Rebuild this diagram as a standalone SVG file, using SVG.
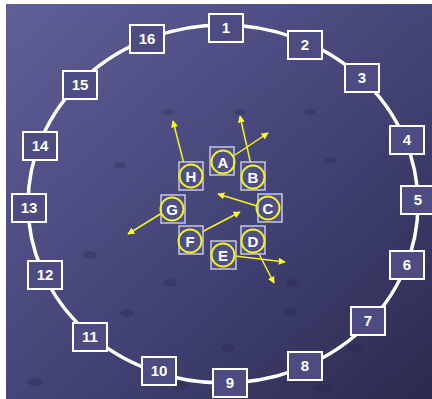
<svg xmlns="http://www.w3.org/2000/svg" width="432" height="399" viewBox="0 0 432 399">
  <defs>
    <linearGradient id="bg" x1="0" y1="0" x2="1" y2="1">
      <stop offset="0" stop-color="#606096"/>
      <stop offset="0.5" stop-color="#45457a"/>
      <stop offset="1" stop-color="#2b2b4e"/>
    </linearGradient>
    <marker id="ah" viewBox="0 0 10 10" refX="9" refY="5" markerWidth="7" markerHeight="7" markerUnits="userSpaceOnUse" orient="auto">
      <path d="M0,0 L10,5 L0,10 z" fill="#ffff22"/>
    </marker>
    <style>
      .ob { fill: #4c4c82; stroke: #ffffff; stroke-width: 2; }
      .ot { fill: #ffffff; font-family: "Liberation Sans", Arial, sans-serif; font-weight: bold; font-size: 15px; text-anchor: middle; }
      .ib { fill: #4f4f88; stroke: #c8c8dc; stroke-width: 1.5; }
      .ic { fill: none; stroke: #f2f21e; stroke-width: 2; }
      .it { fill: #ffffff; font-family: "Liberation Sans", Arial, sans-serif; font-weight: bold; font-size: 15px; text-anchor: middle; }
      .ar { stroke: #f5f51e; stroke-width: 1.5; fill: none; marker-end: url(#ah); }
      .dot { fill: #262645; opacity: 0.3; }
    </style>
  </defs>
  <rect x="0" y="0" width="432" height="399" fill="#ffffff"/>
  <rect x="6" y="4" width="426" height="395" fill="url(#bg)"/>
  <g id="texture">
    <ellipse class="dot" cx="168" cy="112" rx="6" ry="3"/>
    <ellipse class="dot" cx="240" cy="112" rx="6" ry="3"/>
    <ellipse class="dot" cx="310" cy="112" rx="6" ry="3"/>
    <ellipse class="dot" cx="120" cy="165" rx="6" ry="3"/>
    <ellipse class="dot" cx="330" cy="160" rx="6" ry="3"/>
    <ellipse class="dot" cx="90" cy="255" rx="7" ry="4"/>
    <ellipse class="dot" cx="170" cy="283" rx="7" ry="4"/>
    <ellipse class="dot" cx="127" cy="313" rx="7" ry="4"/>
    <ellipse class="dot" cx="228" cy="348" rx="7" ry="4"/>
    <ellipse class="dot" cx="290" cy="312" rx="7" ry="4"/>
    <ellipse class="dot" cx="355" cy="348" rx="7" ry="4"/>
    <ellipse class="dot" cx="35" cy="382" rx="8" ry="4"/>
    <ellipse class="dot" cx="180" cy="386" rx="8" ry="4"/>
    <ellipse class="dot" cx="323" cy="388" rx="8" ry="4"/>
    <ellipse class="dot" cx="293" cy="283" rx="7" ry="4"/>
  </g>
  <ellipse id="ring" cx="223" cy="204" rx="195" ry="179" fill="none" stroke="#ffffff" stroke-width="3.5"/>
  <g id="connectors">
    <line class="ar" x1="235" y1="155" x2="268" y2="133"/>
    <line class="ar" x1="251" y1="165" x2="240" y2="116"/>
    <line class="ar" x1="184" y1="164" x2="173" y2="121"/>
    <line class="ar" x1="257" y1="206" x2="218" y2="194"/>
    <line class="ar" x1="162" y1="213" x2="128" y2="234"/>
    <line class="ar" x1="200" y1="233" x2="240" y2="212"/>
    <line class="ar" x1="235" y1="256" x2="285" y2="262"/>
    <line class="ar" x1="258" y1="252" x2="274" y2="283"/>
  </g>
  <g id="n1"><rect class="ob" x="209" y="14" width="34" height="28"/><text class="ot" x="226" y="33">1</text></g>
  <g id="n2"><rect class="ob" x="288" y="31" width="34" height="28"/><text class="ot" x="305" y="50">2</text></g>
  <g id="n3"><rect class="ob" x="345" y="64" width="34" height="28"/><text class="ot" x="362" y="83">3</text></g>
  <g id="n4"><rect class="ob" x="390" y="126" width="34" height="28"/><text class="ot" x="407" y="145">4</text></g>
  <g id="n5"><rect class="ob" x="401" y="186" width="34" height="28"/><text class="ot" x="418" y="205">5</text></g>
  <g id="n6"><rect class="ob" x="390" y="251" width="34" height="28"/><text class="ot" x="407" y="270">6</text></g>
  <g id="n7"><rect class="ob" x="351" y="307" width="34" height="28"/><text class="ot" x="368" y="326">7</text></g>
  <g id="n8"><rect class="ob" x="288" y="352" width="34" height="28"/><text class="ot" x="305" y="371">8</text></g>
  <g id="n9"><rect class="ob" x="213" y="369" width="34" height="28"/><text class="ot" x="230" y="388">9</text></g>
  <g id="n10"><rect class="ob" x="142" y="357" width="34" height="28"/><text class="ot" x="159" y="376">10</text></g>
  <g id="n11"><rect class="ob" x="73" y="323" width="34" height="28"/><text class="ot" x="90" y="342">11</text></g>
  <g id="n12"><rect class="ob" x="28" y="261" width="34" height="28"/><text class="ot" x="45" y="280">12</text></g>
  <g id="n13"><rect class="ob" x="12" y="194" width="34" height="28"/><text class="ot" x="29" y="213">13</text></g>
  <g id="n14"><rect class="ob" x="23" y="132" width="34" height="28"/><text class="ot" x="40" y="151">14</text></g>
  <g id="n15"><rect class="ob" x="63" y="71" width="34" height="28"/><text class="ot" x="80" y="90">15</text></g>
  <g id="n16"><rect class="ob" x="130" y="25" width="34" height="28"/><text class="ot" x="147" y="44">16</text></g>
  <g id="nA"><rect class="ib" x="210" y="147" width="24" height="28"/><circle class="ic" cx="223" cy="162" r="11.5"/><text class="it" x="223" y="167.5">A</text></g>
  <g id="nB"><rect class="ib" x="241" y="162" width="24" height="28"/><circle class="ic" cx="253" cy="177" r="11.5"/><text class="it" x="253" y="182.5">B</text></g>
  <g id="nC"><rect class="ib" x="258" y="194" width="24" height="28"/><circle class="ic" cx="268" cy="208" r="11.5"/><text class="it" x="268" y="213.5">C</text></g>
  <g id="nD"><rect class="ib" x="241" y="226" width="24" height="28"/><circle class="ic" cx="253" cy="241" r="11.5"/><text class="it" x="253" y="246.5">D</text></g>
  <g id="nE"><rect class="ib" x="211" y="241" width="25" height="28"/><circle class="ic" cx="223" cy="255" r="11.5"/><text class="it" x="223" y="260.5">E</text></g>
  <g id="nF"><rect class="ib" x="179" y="226" width="24" height="28"/><circle class="ic" cx="190" cy="241" r="11.5"/><text class="it" x="190" y="246.5">F</text></g>
  <g id="nG"><rect class="ib" x="161" y="195" width="24" height="28"/><circle class="ic" cx="172" cy="209" r="11.5"/><text class="it" x="172" y="214.5">G</text></g>
  <g id="nH"><rect class="ib" x="179" y="162" width="24" height="28"/><circle class="ic" cx="191" cy="176" r="11.5"/><text class="it" x="191" y="181.5">H</text></g>
</svg>
